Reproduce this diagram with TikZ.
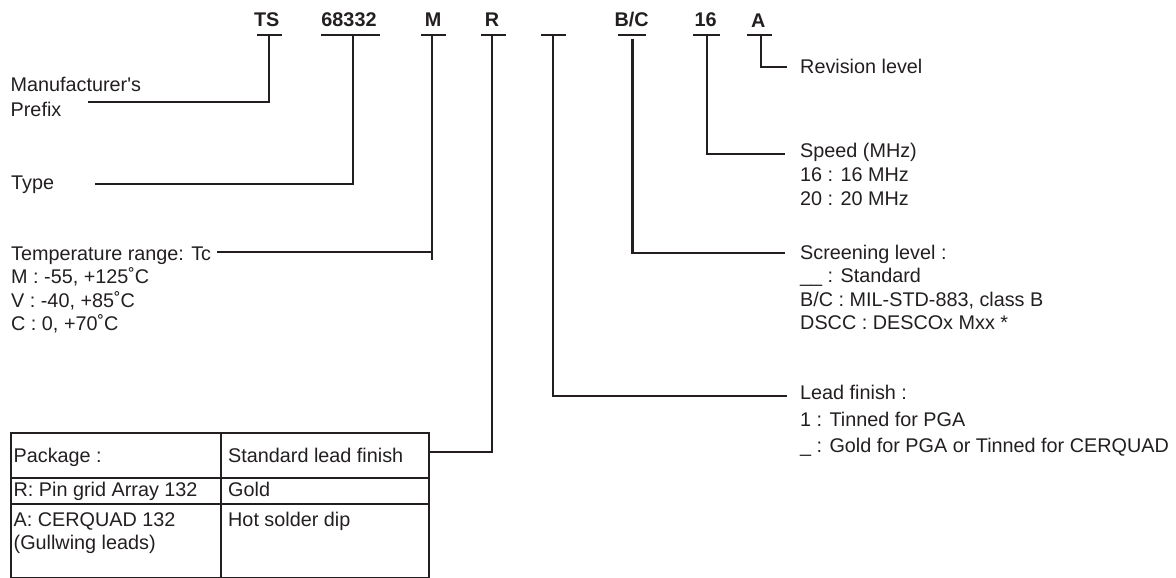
\documentclass[tikz,border=0pt]{standalone}
\usepackage{fontspec}
\newfontfamily\af{Liberation Sans}
\definecolor{ink}{HTML}{231F20}
\tikzset{
  txt/.style={font=\af\fontsize{19.8}{23.5}\selectfont, text=ink, inner sep=0pt, anchor=base west},
  code/.style={font=\af\bfseries\fontsize{19.8}{23.5}\selectfont, text=ink, inner sep=0pt, anchor=base},
  codebar/.style={line width=2.9pt, draw=ink},
  conn/.style={line width=2.7pt, draw=ink},
  thinconn/.style={line width=1.4pt, draw=ink},
  grid/.style={line width=2pt, draw=ink},
}
\begin{document}
\begin{tikzpicture}[x=1pt,y=-1pt]
\useasboundingbox (0,0) rectangle (1176,578);

% code letters
\node[code] (cTS) at (266.7,27) {TS};
\node[code] (c68) at (349,27) {68332};
\node[code] (cM)  at (433,27) {M};
\node[code] (cR)  at (492,27) {R};
\node[code] (cBC) at (631.7,27) {B/C};
\node[code] (c16) at (705.7,27) {16};
\node[code] (cA)  at (758.3,28) {A};

% bars under the codes
\draw[codebar] (257,35) -- (282,35);
\draw[codebar] (321,35) -- (380,35);
\draw[codebar] (421,35) -- (446,35);
\draw[codebar] (481,35) -- (506,35);
\draw[codebar] (541,35) -- (566,35);
\draw[codebar] (618,35) -- (646,35);
\draw[codebar] (693,35) -- (720,35);
\draw[codebar] (747,35) -- (772,35);

% connector anchor points
\coordinate (kTS) at (269,35);
\coordinate (k68) at (353,35);
\coordinate (kM)  at (432,35);
\coordinate (kMc) at (432,252);
\coordinate (kR)  at (492,35);
\coordinate (kLF) at (553,35);
\coordinate (kBC) at (632.5,39);
\coordinate (k16) at (707,35);
\coordinate (kA)  at (761,35);

\coordinate (eTS) at (88,102);
\coordinate (e68) at (95,184);
\coordinate (eM)  at (217,252);
\coordinate (eLF) at (787,396);
\coordinate (eBC) at (785,253);
\coordinate (e16) at (785,154);
\coordinate (eA)  at (787,67);

% left texts
\node[txt] (mfr)  at (10.5,92)  {Manufacturer's};
\node[txt] (pfx)  at (10.5,116) {Prefix};
\node[txt] (typ)  at (11,189)   {Type};
\node[txt] (tmp)  at (11,260)   {Temperature range: Tc};
\node[txt] (tmpM) at (11,283.5) {M : -55, +125˚C};
\node[txt] (tmpV) at (11,307)   {V : -40, +85˚C};
\node[txt] (tmpC) at (11,330.5) {C : 0, +70˚C};

% right texts
\node[txt] (rev)  at (800,74)    {Revision level};
\node[txt] (spd)  at (800,157)   {Speed (MHz)};
\node[txt] (spd1) at (800,181)   {16 : 16 MHz};
\node[txt] (spd2) at (800,205)   {20 : 20 MHz};
\node[txt] (scr)  at (800,259)   {Screening level :};
\node[txt] (scr1) at (800,282.5) {\_\_ : Standard};
\node[txt] (scr2) at (800,306)   {B/C : MIL-STD-883, class B};
\node[txt] (scr3) at (800,329.5) {DSCC : DESCOx Mxx *};
\node[txt] (lf)   at (800,399)   {Lead finish :};
\node[txt] (lf1)  at (800,426)   {1 : Tinned for PGA};
\node[txt] (lf2)  at (800,452)   {\_ : Gold for PGA or Tinned for CERQUAD};

% table
\node[grid, draw, inner sep=0pt, minimum width=210pt, minimum height=45pt, anchor=north west] (t11) at (10,432) {};
\node[grid, draw, inner sep=0pt, minimum width=208pt, minimum height=45pt, anchor=north west] (t12) at (220,432) {};
\node[grid, draw, inner sep=0pt, minimum width=210pt, minimum height=26pt, anchor=north west] (t21) at (10,477) {};
\node[grid, draw, inner sep=0pt, minimum width=208pt, minimum height=26pt, anchor=north west] (t22) at (220,477) {};
\node[grid, draw, inner sep=0pt, minimum width=210pt, minimum height=73.5pt, anchor=north west] (t31) at (10,503) {};
\node[grid, draw, inner sep=0pt, minimum width=208pt, minimum height=73.5pt, anchor=north west] (t32) at (220,503) {};
\coordinate (eR) at (428,452);

\node[txt] (pk)   at (13.5,462) {Package :};
\node[txt] (slf)  at (228,462)  {Standard lead finish};
\node[txt] (pga)  at (13.5,496.5) {R: Pin grid Array 132};
\node[txt] (gold) at (228,496.5)  {Gold};
\node[txt] (cq)   at (13.5,526) {A: CERQUAD 132};
\node[txt] (gw)   at (13.5,549) {(Gullwing leads)};
\node[txt] (hsd)  at (228,526)  {Hot solder dip};

% connectors
\draw[conn, line join=miter] (kTS) |- (eTS);
\draw[conn, line join=miter] (k68) |- (e68);
\draw[thinconn] (kM) -- (kMc);
\draw[conn, line join=miter] ([yshift=-8pt]kMc) -- (kMc) -- (eM);
\draw[conn, line join=miter] (kR) |- (eR);
\draw[conn, line join=miter] (kLF) |- (eLF);
\draw[conn, line join=miter] (kBC) |- (eBC);
\draw[conn, line join=miter] (k16) |- (e16);
\draw[conn, line join=miter] (kA) |- (eA);
\end{tikzpicture}
\end{document}
